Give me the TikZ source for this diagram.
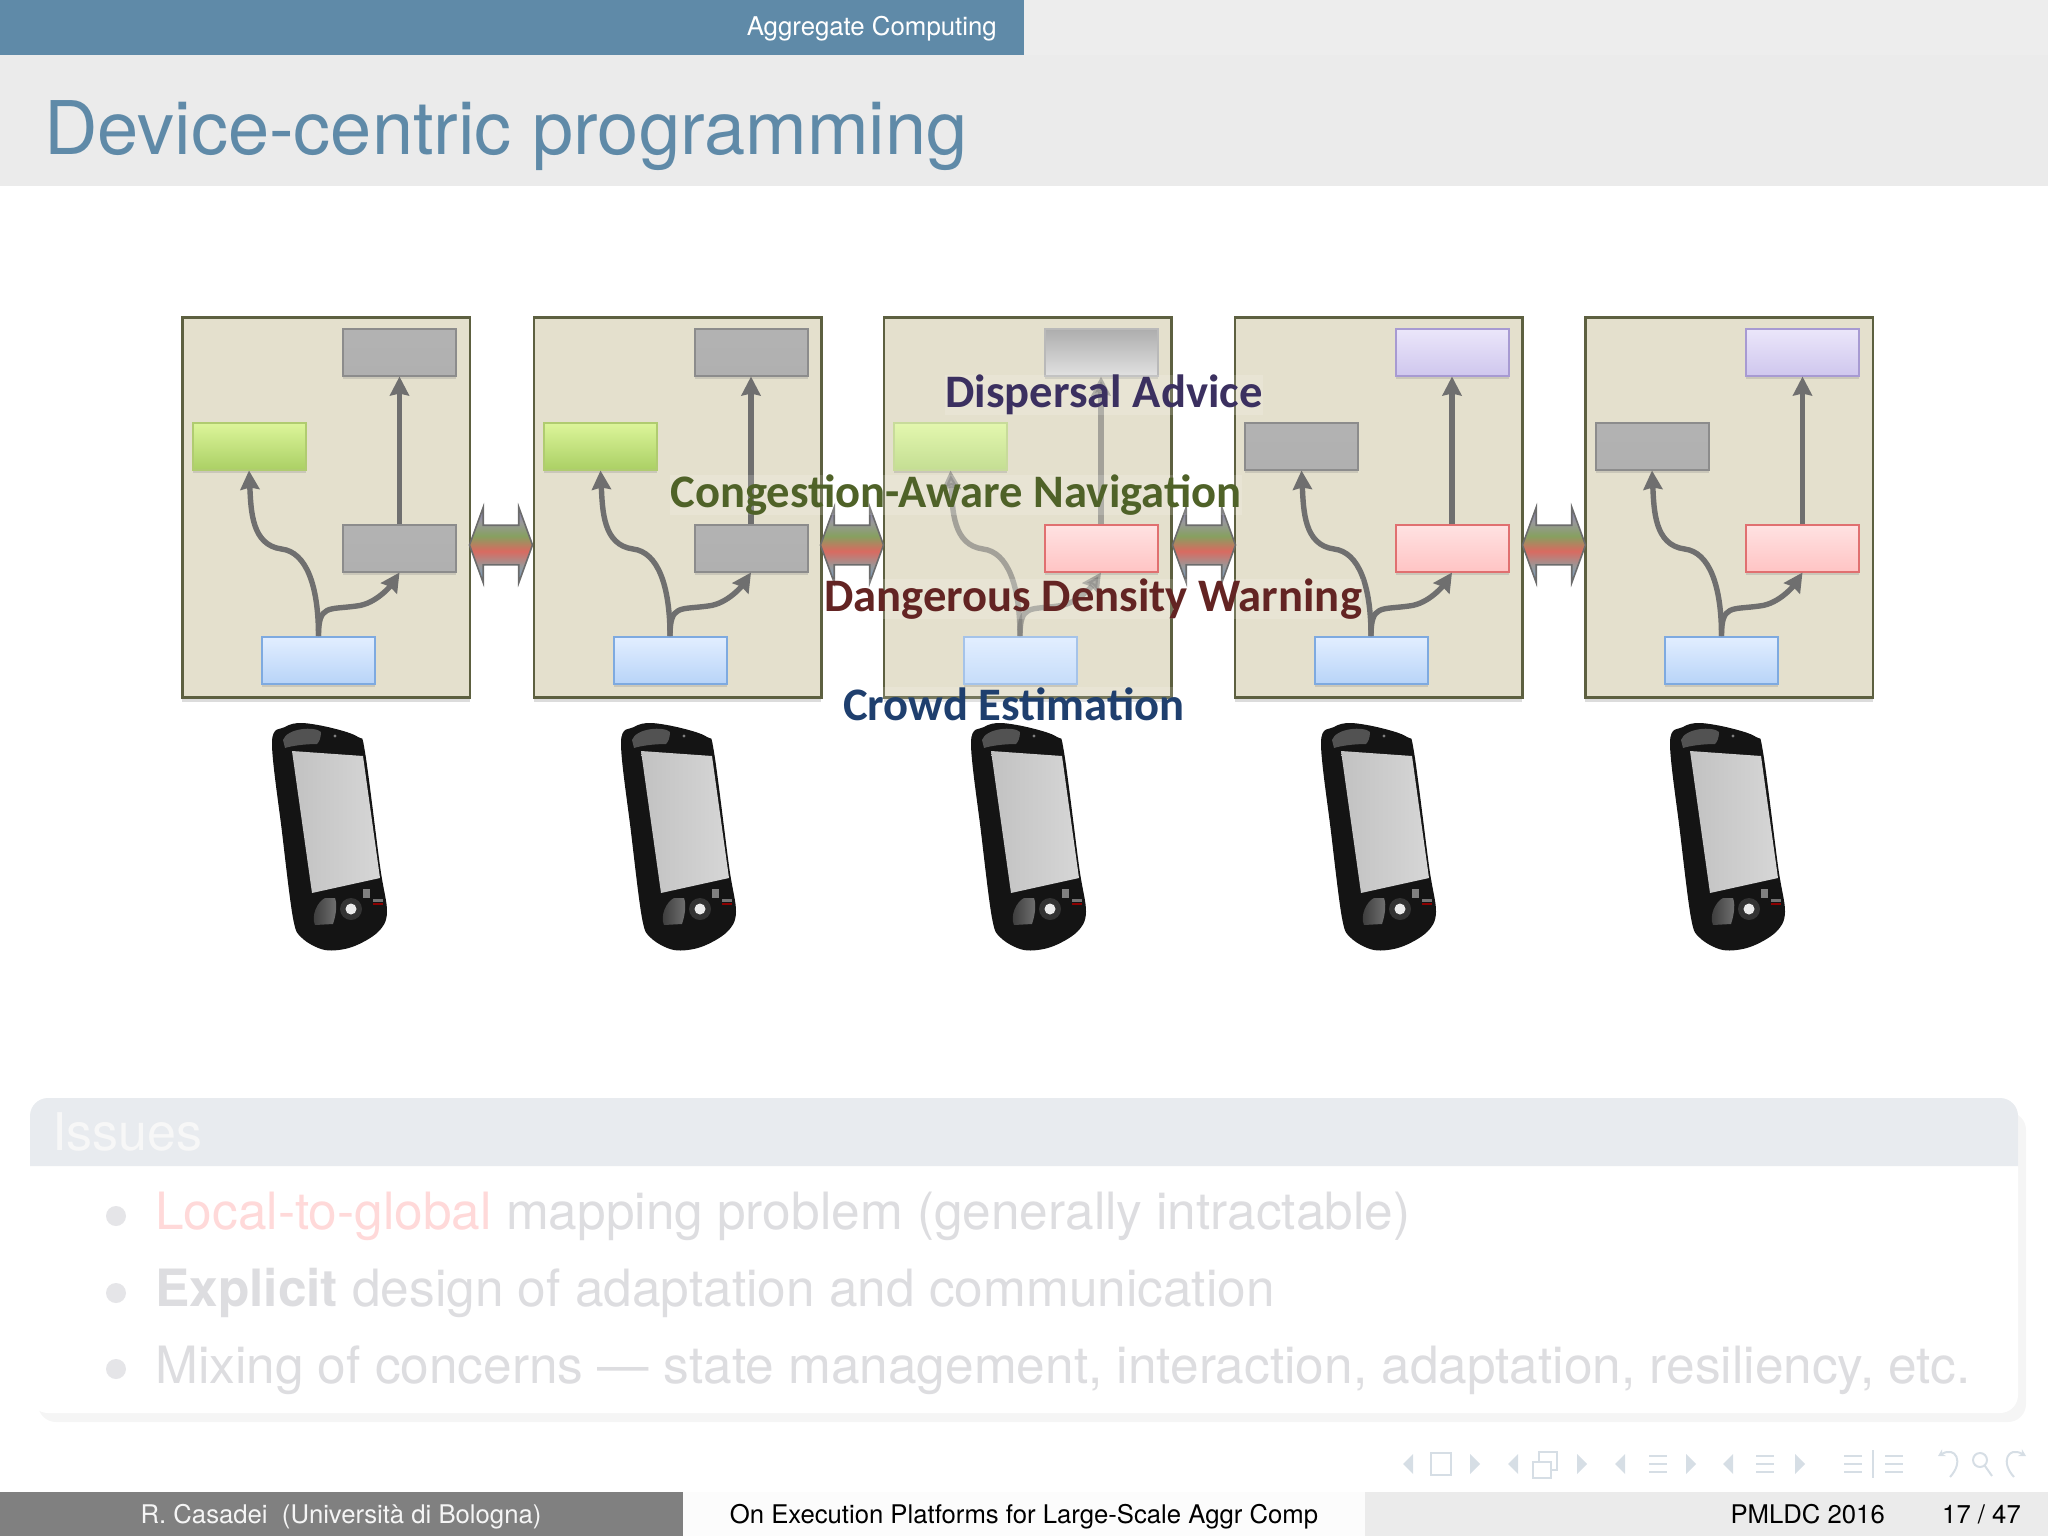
\documentclass[tikz,border=0pt]{standalone}
\usepackage{fontspec}
\setmainfont{TeX Gyre Heros}
\newfontfamily\labelfont{Carlito}
\usetikzlibrary{arrows.meta,shadows,shapes.arrows}

\definecolor{themeblue}{HTML}{5F8AA8}
\definecolor{frameline}{HTML}{5D6040}
\definecolor{framefill}{HTML}{E4E0CD}
\definecolor{flowgray}{HTML}{6F6F6F}
\definecolor{fadetext}{HTML}{DDDDE0}
\definecolor{navcolor}{HTML}{D6DEE5}
\definecolor{blockhead}{HTML}{E8EBEF}
\definecolor{linkpurple}{HTML}{7D78B0}
\definecolor{linkgreen}{HTML}{86A060}
\definecolor{linkred}{HTML}{D96A60}
\definecolor{linkblue}{HTML}{6A9CD0}
\definecolor{greenhi}{HTML}{DCF59A}
\definecolor{greenlo}{HTML}{ABD065}
\definecolor{greenline}{HTML}{B0CC70}
\definecolor{bluehi}{HTML}{E2EEFF}
\definecolor{bluelo}{HTML}{B8D4F8}
\definecolor{blueline}{HTML}{7EAAE0}
\definecolor{purplehi}{HTML}{EBE6FA}
\definecolor{purplelo}{HTML}{CFC7EE}
\definecolor{purpleline}{HTML}{A79AD2}
\definecolor{pinkhi}{HTML}{FFE2E2}
\definecolor{pinklo}{HTML}{FFC4C4}
\definecolor{pinkline}{HTML}{E07070}
\definecolor{labelpurple}{HTML}{3B3060}
\definecolor{labelgreen}{HTML}{4F6228}
\definecolor{labelred}{HTML}{632423}
\definecolor{labelblue}{HTML}{1F3F6E}
\pgfdeclareverticalshading{linkshade}{100bp}{
    color(0bp)=(linkblue); color(25bp)=(linkblue); color(36bp)=(gray!80);
    color(46bp)=(linkred); color(56bp)=(linkgreen); color(65bp)=(gray!80);
    color(75bp)=(linkpurple); color(100bp)=(linkpurple)}

\tikzset{
    fontpx/.style={font=\fontsize{#1}{#1}\selectfont},
    labeltext/.style={font=\labelfont\bfseries\fontsize{46.6}{46.6}\selectfont, inner sep=0pt,
        fill=white, fill opacity=.15, text opacity=1},
    framebox/.style={draw=frameline, fill=framefill, line width=2.6pt, anchor=north west,
        minimum width=287.5pt, minimum height=380pt, inner sep=0pt,
        drop shadow={shadow xshift=0pt, shadow yshift=-5pt, opacity=.28}},
    subbox/.style={draw=#1, line width=2pt, anchor=north west, minimum width=113pt,
        minimum height=46.5pt, inner sep=0pt,
        drop shadow={shadow xshift=0pt, shadow yshift=-3pt, opacity=.25}},
    boxgray/.style={subbox=gray!90, top color=black!30, bottom color=black!31},
    boxfade/.style={subbox=gray!55, top color=black!32, bottom color=black!12},
    boxgreen/.style={subbox=greenline, top color=greenhi, bottom color=greenlo},
    boxlime/.style={subbox=greenline!70, top color=greenhi!80, bottom color=greenlo!70},
    boxblue/.style={subbox=blueline, top color=bluehi, bottom color=bluelo},
    boxsky/.style={subbox=blueline!70, top color=bluehi, bottom color=bluelo!80},
    boxpink/.style={subbox=pinkline, top color=pinkhi, bottom color=pinklo},
    boxpurple/.style={subbox=purpleline, top color=purplehi, bottom color=purplelo},
    flow/.style={draw=flowgray, line width=5.4pt, -{Stealth[length=19pt,width=19pt,inset=2pt]}},
    flowfade/.style={flow, draw opacity=.55, fill opacity=.55},
    linkarrow/.style={double arrow, draw=gray!85!black, line width=1.6pt, minimum width=74pt,
        minimum height=63pt, double arrow tip angle=140, double arrow head extend=18pt,
        inner xsep=0pt, inner ysep=19pt, shading=linkshade},
    pics/phone/.style={code={
        \fill [black!92] plot [smooth cycle, tension=.55] coordinates {(-57,-94) (-44,-109)
            (-27,-113) (3,-108) (29,-99) (36,-84) (51,30) (58,76) (49,96) (23,111) (-4,114)
            (-27,102) (-36,82) (-47,-4)};
        \fill [black!68] (-46,-96) .. controls (-42,-108) and (-14,-110) .. (-8,-104)
            .. controls (-8,-98) and (-10,-94) .. (-12,-92) .. controls (-25,-92) and (-38,-90) .. (-44,-88) -- cycle;
        \shade [left color=black!24, right color=black!16] (-37,-85) -- (34,-80) -- (51,42) -- (-17,57) -- cycle;
        \shade [left color=black!78, right color=black!55] (-14,89) .. controls (-18,80) and (-12,66) .. (-4,62)
            -- (6,62) .. controls (9,70) and (6,82) .. (4,88) -- cycle;
        \fill [black!80] (22,73) circle (11pt);
        \fill [white!92!black] (22,73) circle (5.5pt);
        \fill [black!50] (33.5,53) rectangle (40.5,62);
        \fill [black!55] (44,63) rectangle (54,65.5);
        \fill [red!55!black] (44,66.5) rectangle (54,69);
        \fill [black!50] (6,-100) circle (1.6pt);
    }},
}

\begin{document}
\begin{tikzpicture}[x=1pt, y=-1pt]
    \useasboundingbox (0,0) rectangle (2048,1536);

    \fill [black!7] (0,0) rectangle (2048,55);
    \fill [black!8] (0,55) rectangle (2048,186);
    \fill [themeblue] (0,0) rectangle (1024,55);
    \path (997,36) node [anchor=base east, inner sep=0pt, text=white, fontpx=25.8] (section) {Aggregate Computing};
    \path (44,154) node [anchor=base west, inner sep=0pt, text=themeblue, fontpx=74] (title) {Device-centric programming};

    \foreach \i/\x/\stop/\sleft/\smid/\slow/\sflow in {
        1/181/boxgray/boxgreen/boxgray/boxblue/flow,
        2/532.5/boxgray/boxgreen/boxgray/boxblue/flow,
        3/882.5/boxfade/boxlime/boxpink/boxsky/flowfade,
        4/1233.5/boxpurple/boxgray/boxpink/boxblue/flow,
        5/1584/boxpurple/boxgray/boxpink/boxblue/flow} {
        \path (\x,316) node [framebox] (box\i) {};
        \path (box\i.north west) ++(161,12) node [\stop] (top\i) {};
        \path (box\i.north west) ++(10.5,106) node [\sleft] (left\i) {};
        \path (box\i.north west) ++(161,208) node [\smid] (mid\i) {};
        \path (box\i.north west) ++(80,320) node [\slow] (low\i) {};
        \draw [\sflow] (mid\i.north) -- (top\i.south);
        \draw [\sflow] (low\i.north) .. controls +(0,-50) and +(25,3) .. ++(-37,-87)
            .. controls +(-30,-4) and +(2,40) .. (left\i.south);
        \draw [\sflow] (low\i.north) .. controls +(0,-32) and +(-28,4) .. ++(38,-30)
            .. controls +(20,-2) and +(-8,12) .. (mid\i.south);
    }

    \path (501,545) node [linkarrow] (link1) {};
    \path (852,545) node [linkarrow] (link2) {};
    \path (1204,545) node [linkarrow] (link3) {};
    \path (1554,545) node [linkarrow] (link4) {};

    \path (329,836) pic {phone};
    \path (678,836) pic {phone};
    \path (1028,836) pic {phone};
    \path (1378,836) pic {phone};
    \path (1727,836) pic {phone};

    \path (1104,395) node [labeltext, text=labelpurple] (dispersal) {Dispersal Advice};
    \path (956,495) node [labeltext, text=labelgreen] (congestion) {Congestion-Aware Navigation};
    \path (1093,599) node [labeltext, text=labelred] (density) {Dangerous Density Warning};
    \path (1014,704) node [labeltext, text=labelblue] (crowd) {Crowd Estimation};

    \fill [black!4, rounded corners=18pt] (38,1112) rectangle (2026,1422);
    \fill [white, rounded corners=18pt] (30,1098) rectangle (2018,1413);
    \fill [blockhead] (30,1166) [rounded corners=18pt] -- (30,1098) -- (2018,1098) [sharp corners] -- (2018,1166) -- cycle;
    \path (52,1150) node [anchor=base west, inner sep=0pt, text=black!3, fontpx=52] (issues) {Issues};
    \fill [blue!8!black!10] (116,1216) circle (10pt) (116,1293) circle (10pt) (116,1369) circle (10pt);
    \path (155,1229) node [anchor=base west, inner sep=0pt, text=fadetext, fontpx=51.4] (item1)
        {\textcolor{red!15!white}{Local-to-global} mapping problem (generally intractable)};
    \path (155,1306) node [anchor=base west, inner sep=0pt, text=fadetext, fontpx=51.4] (item2)
        {\textbf{Explicit} design of adaptation and communication};
    \path (155,1383) node [anchor=base west, inner sep=0pt, text=fadetext, fontpx=51.4] (item3)
        {Mixing of concerns --- state management, interaction, adaptation, resiliency, etc.};

    \foreach \x in {1408,1513,1620,1728} {
        \fill [navcolor] (\x-5,1464) -- ++(10,-10) -- ++(0,20) -- cycle;
    }
    \foreach \x in {1475,1582,1691,1800} {
        \fill [navcolor] (\x+5,1464) -- ++(-10,-10) -- ++(0,20) -- cycle;
    }
    \draw [navcolor, line width=2pt] (1431,1453) rectangle (1451,1475);
    \draw [navcolor, line width=2pt] (1533,1462) rectangle (1551,1478) (1539,1462) |- (1557,1452) |- (1551,1470);
    \foreach \x in {1658,1765,1853,1894} {
        \draw [navcolor, line width=2.5pt] (\x-9,1456) -- (\x+9,1456) (\x-9,1464) -- (\x+9,1464) (\x-9,1472) -- (\x+9,1472);
    }
    \draw [navcolor, line width=1.5pt] (1873,1450) -- (1873,1478);
    \draw [navcolor, line width=2pt, -{Stealth[length=7pt,width=8pt]}] (1950,1477) .. controls (1964,1462) and (1956,1446) .. (1938,1456);
    \draw [navcolor, line width=2pt] (1980,1460) circle (7pt) (1985,1466) -- (1992,1476);
    \draw [navcolor, line width=2pt, -{Stealth[length=7pt,width=8pt]}] (2014,1477) .. controls (2000,1462) and (2008,1446) .. (2026,1456);

    \fill [black!50] (0,1492) rectangle (683,1536);
    \fill [black!1] (683,1492) rectangle (1365,1536);
    \fill [black!8] (1365,1492) rectangle (2048,1536);
    \path (341,1523) node [anchor=base, inner sep=0pt, text=black!4, fontpx=25.7] (author) {R. Casadei\ \ (Università di Bologna)};
    \path (1024,1523) node [anchor=base, inner sep=0pt, fontpx=25.7] (talk) {On Execution Platforms for Large-Scale Aggr Comp};
    \path (1885,1523) node [anchor=base east, inner sep=0pt, fontpx=25.7] (venue) {PMLDC 2016};
    \path (2021,1523) node [anchor=base east, inner sep=0pt, fontpx=25.7] (page) {17 / 47};
\end{tikzpicture}
\end{document}
